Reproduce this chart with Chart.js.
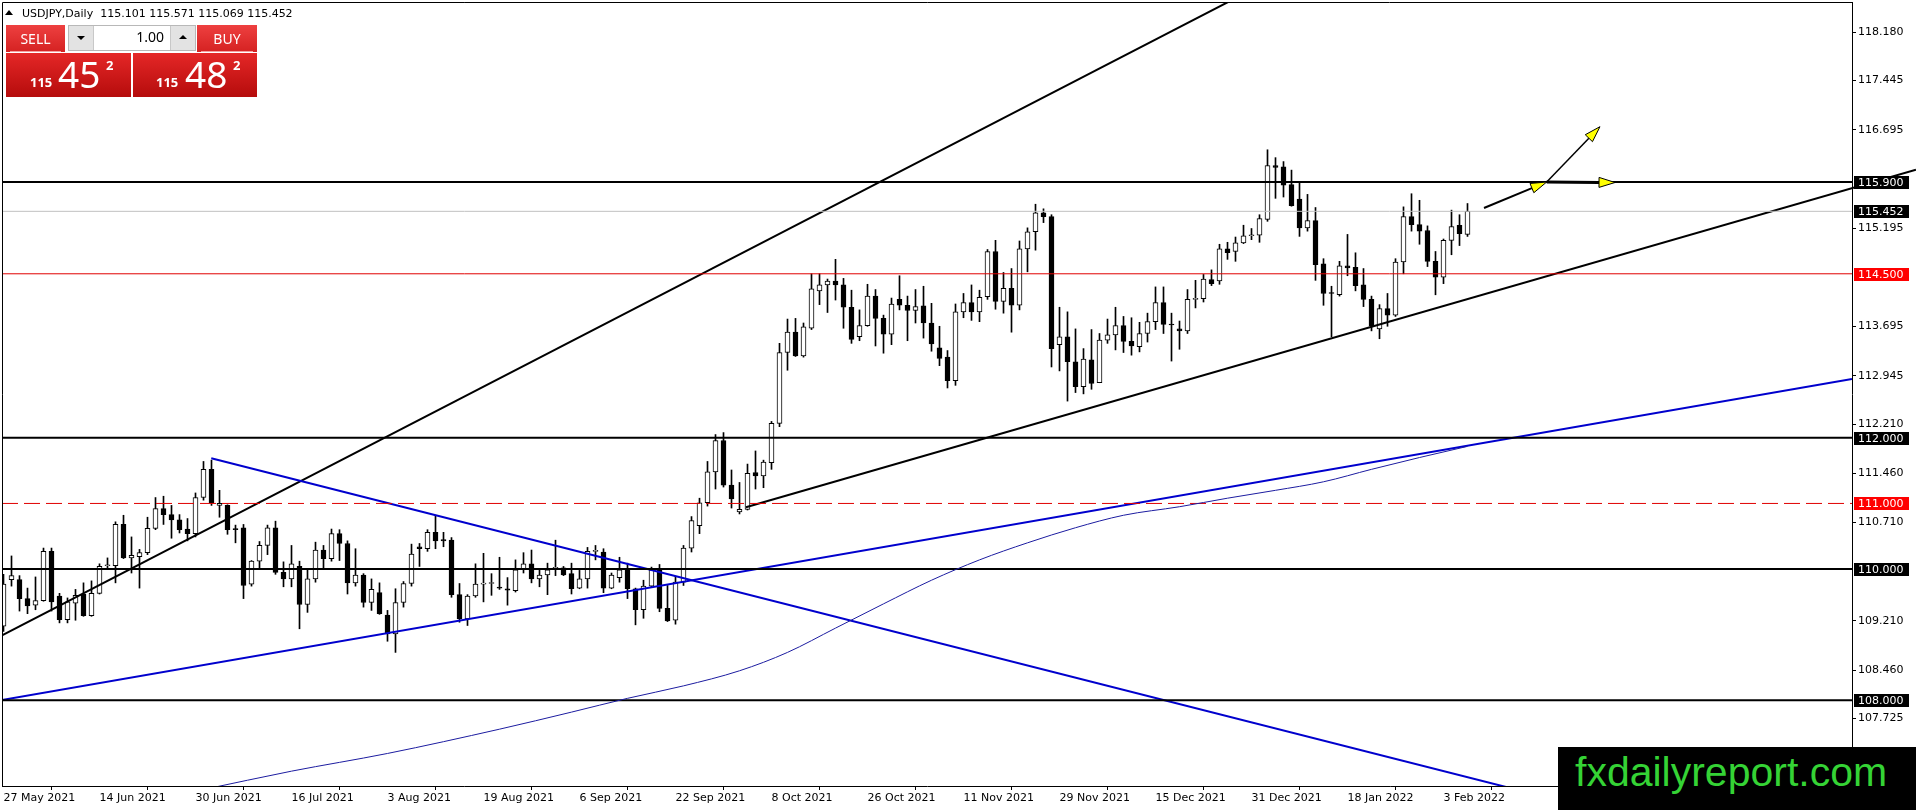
<!DOCTYPE html>
<html lang="en">
<head>
  <meta charset="UTF-8">
  <title>USDJPY Daily</title>
  <script src="https://cdn.jsdelivr.net/npm/chart.js"></script>
  <style>
    html, body { margin: 0; padding: 0; background: #fff; }
    #wrap { position: relative; width: 1916px; height: 810px; overflow: hidden; font-family: "DejaVu Sans", sans-serif; }
    #chart { position: absolute; left: 0; top: 0; }
    .abs { position: absolute; }
    .hdr { left: 22px; top: 8px; font-size: 11px; line-height: 1; white-space: pre; color: #000; }
    .tri { left: 5px; top: 10px; width: 0; height: 0; border-left: 4px solid transparent; border-right: 4px solid transparent; border-bottom: 5px solid #000; }
    .redTop { top: 25px; height: 27px; background: linear-gradient(#ee4040, #d52222); color: #fff; font-family: "Noto Sans", sans-serif; font-size: 14px; line-height: 27px; text-align: center; }
    .redTop:after { content: ""; position: absolute; left: 4px; right: 4px; bottom: 0; height: 1px; background: #f5a0a0; }
    .redBig { top: 53px; height: 44px; background: linear-gradient(#e52727, #b50c0c); }
    .lot { left: 68px; top: 25px; width: 126px; height: 24px; border: 1px solid #b8b8b8; background: #fff; }
    .btn { top: 0; width: 24px; height: 24px; background: #e3e3e3; }
    .num { color: #fff; font-family: "Noto Sans", sans-serif; line-height: 1; white-space: pre; }
    .wm { left: 1558px; top: 747px; width: 358px; height: 63px; background: #000; }
    .wm span { position: absolute; left: 17px; top: 5px; font-family: "Liberation Sans", sans-serif; font-size: 41px; line-height: 1; color: #35d335; white-space: pre; }
  </style>
</head>
<body>
<div id="wrap">
  <canvas id="chart" width="1916" height="810"></canvas>

  <div class="abs tri"></div>
  <div class="abs hdr">USDJPY,Daily  115.101 115.571 115.069 115.452</div>

  <!-- one-click trading panel -->
  <div class="abs redTop" style="left:6px;width:59px;">SELL</div>
  <div class="abs redTop" style="left:197px;width:60px;">BUY</div>
  <div class="abs lot">
    <div class="abs btn" style="left:0;border-right:1px solid #c8c8c8;">
      <div class="abs" style="left:8px;top:10px;width:0;height:0;border-left:4px solid transparent;border-right:4px solid transparent;border-top:4px solid #000;"></div>
    </div>
    <div class="abs" style="right:31px;top:4px;font-family:'Noto Sans',sans-serif;font-size:14px;line-height:1;">1.00</div>
    <div class="abs btn" style="right:0;border-left:1px solid #c8c8c8;">
      <div class="abs" style="left:8px;top:9px;width:0;height:0;border-left:4px solid transparent;border-right:4px solid transparent;border-bottom:4px solid #000;"></div>
    </div>
  </div>
  <div class="abs redBig" style="left:6px;width:125px;"></div>
  <div class="abs redBig" style="left:133px;width:124px;"></div>
  <div class="abs num" style="left:30px;top:76px;font-size:13px;font-weight:bold;">115</div>
  <div class="abs num" style="left:58px;top:55px;font-size:37px;">45</div>
  <div class="abs num" style="left:106px;top:59px;font-size:13px;font-weight:bold;">2</div>
  <div class="abs num" style="left:156px;top:76px;font-size:13px;font-weight:bold;">115</div>
  <div class="abs num" style="left:185px;top:55px;font-size:37px;">48</div>
  <div class="abs num" style="left:233px;top:59px;font-size:13px;font-weight:bold;">2</div>

  <div class="abs wm"><span>fxdailyreport.com</span></div>
</div>

<script>
  // ---- data (bar index 0 = 27 May 2021) ----
  const dateTickBars = [0, 12, 24, 36, 48, 60, 72, 84, 96, 108, 120, 132, 144, 156, 168, 180];
  const dateLabels = ['27 May 2021', '14 Jun 2021', '30 Jun 2021', '16 Jul 2021', '3 Aug 2021', '19 Aug 2021',
    '6 Sep 2021', '22 Sep 2021', '8 Oct 2021', '26 Oct 2021', '11 Nov 2021', '29 Nov 2021',
    '15 Dec 2021', '31 Dec 2021', '18 Jan 2022', '3 Feb 2022'];
  const priceTicks = [118.180, 117.445, 116.695, 115.195, 113.695, 112.945, 112.210, 111.460, 110.710, 109.210, 108.460, 107.725];

  const opens = [
    109.13,109.84,109.84,109.55,109.45,109.52,110.27,109.59,109.23,109.48,
    109.62,109.29,109.63,110.05,110.05,110.68,110.17,110.19,110.25,110.62,
    110.92,110.83,110.75,110.61,110.54,111.09,111.52,110.97,110.97,110.61,
    110.63,109.77,110.12,110.36,110.63,109.95,109.85,110.04,109.46,109.85,
    110.29,110.16,110.54,110.39,109.79,109.91,109.49,109.64,109.30,109.01,
    109.49,109.78,110.34,110.31,110.56,110.45,110.44,109.61,109.24,109.59,
    109.77,109.78,109.72,109.70,109.67,110.00,110.08,109.85,109.91,110.01,
    110.02,109.93,109.71,109.85,110.27,110.26,109.71,109.87,109.99,109.70,
    109.38,109.74,109.99,109.40,109.22,109.80,110.32,110.66,111.01,111.48,
    111.96,111.28,110.87,110.91,111.47,111.42,111.62,112.22,113.30,113.61,
    113.25,113.67,114.24,114.33,114.39,114.33,113.99,113.54,113.71,114.16,
    113.82,113.58,114.11,114.02,113.94,114.01,113.75,113.37,113.23,112.87,
    113.92,114.06,113.92,114.15,114.84,114.08,114.28,114.02,114.88,115.14,
    115.43,115.37,113.42,113.54,113.16,112.78,113.19,112.84,113.49,113.57,
    113.71,113.47,113.39,113.59,113.77,114.06,113.73,113.66,113.63,114.11,
    114.12,114.41,114.39,114.88,114.84,114.97,115.08,115.09,115.33,116.15,
    116.13,115.86,115.64,115.20,115.31,114.65,114.21,114.18,114.62,114.60,
    114.33,114.11,113.66,113.97,113.87,114.68,115.37,115.25,115.16,114.69,
    114.45,115.01,115.24,115.101];
  const highs = [
    109.92,110.20,109.90,109.71,109.88,110.32,110.32,109.63,109.56,109.69,
    109.79,109.82,110.08,110.17,110.72,110.82,110.49,110.30,110.79,111.09,
    111.11,110.97,110.83,110.77,111.16,111.64,111.66,111.20,110.98,110.67,
    110.68,110.13,110.42,110.67,110.73,110.11,110.36,110.12,110.00,110.41,
    110.36,110.61,110.60,110.43,110.31,109.93,109.85,109.79,109.37,109.70,
    109.81,110.38,110.39,110.60,110.82,110.56,110.48,109.78,109.61,110.08,
    110.24,109.93,110.18,109.87,110.14,110.25,110.29,110.00,110.09,110.44,
    110.04,110.09,109.98,110.33,110.36,110.31,109.94,110.18,110.09,109.71,
    109.83,110.03,110.07,109.75,109.89,110.36,110.80,111.08,111.64,112.05,
    112.08,111.51,111.32,111.60,111.80,111.66,112.25,113.44,113.81,113.82,
    113.75,114.50,114.50,114.42,114.72,114.43,114.25,113.95,114.34,114.26,
    113.87,114.13,114.47,114.16,114.26,114.31,114.05,113.70,113.33,114.04,
    114.20,114.33,114.25,114.87,115.01,114.52,114.58,115.00,115.20,115.56,
    115.49,115.40,113.99,113.92,113.66,113.36,113.65,113.59,113.81,113.99,
    113.85,113.83,113.76,113.90,114.30,114.30,113.90,113.78,114.26,114.40,
    114.49,114.56,114.95,114.98,115.06,115.24,115.19,115.40,116.39,116.27,
    116.21,116.08,115.90,115.71,115.51,114.73,114.31,114.69,115.10,114.82,
    114.58,114.16,114.03,114.20,114.73,115.52,115.72,115.62,115.23,114.84,
    115.03,115.47,115.40,115.571];
  const lows = [
    109.05,109.74,109.36,109.32,109.38,109.51,109.36,109.18,109.18,109.22,
    109.28,109.28,109.62,110.02,109.79,110.16,109.94,109.71,110.22,110.60,
    110.68,110.47,110.55,110.43,110.49,111.05,110.97,110.79,110.53,110.40,
    109.55,109.74,110.01,110.22,109.92,109.73,109.73,109.09,109.34,109.80,
    110.02,110.12,110.13,109.62,109.74,109.42,109.37,109.31,108.90,108.73,
    109.42,109.74,110.04,110.27,110.31,110.34,109.57,109.19,109.14,109.57,
    109.50,109.60,109.69,109.45,109.65,109.94,109.79,109.73,109.61,109.90,
    109.90,109.62,109.70,109.71,110.14,109.64,109.70,109.80,109.55,109.15,
    109.25,109.72,109.35,109.20,109.16,109.75,110.26,110.54,110.96,111.22,
    111.25,110.93,110.84,110.90,111.22,111.24,111.52,112.17,113.03,113.24,
    113.23,113.65,114.03,113.91,114.10,113.67,113.44,113.48,113.70,113.40,
    113.29,113.42,113.95,113.48,113.75,113.52,113.32,113.10,112.76,112.80,
    113.83,113.79,113.77,114.11,113.96,113.90,113.61,113.95,114.53,114.86,
    115.28,113.08,113.02,112.56,112.69,112.67,112.74,112.84,113.44,113.34,
    113.30,113.26,113.31,113.46,113.65,113.59,113.17,113.35,113.59,113.98,
    114.07,114.32,114.34,114.72,114.69,114.96,115.02,114.98,115.30,115.65,
    115.67,115.53,115.07,115.15,114.40,114.02,113.54,114.16,114.47,114.24,
    114.00,113.63,113.51,113.70,113.85,114.50,115.15,114.95,114.61,114.18,
    114.35,114.79,114.93,115.069];
  const closes = [
    109.77,109.90,109.55,109.44,109.52,110.27,109.50,109.23,109.50,109.60,
    109.29,109.63,110.04,110.06,110.68,110.17,110.21,110.25,110.62,110.92,
    110.83,110.75,110.60,110.54,111.09,111.52,111.01,111.00,110.60,110.60,
    109.75,110.12,110.36,110.63,109.95,109.85,110.08,109.46,109.85,110.29,
    110.16,110.54,110.39,109.79,109.91,109.49,109.69,109.32,109.01,109.49,
    109.78,110.23,110.31,110.56,110.43,110.43,109.61,109.24,109.59,109.77,
    109.78,109.78,109.71,109.68,109.99,110.08,109.85,109.91,109.99,110.02,
    109.91,109.70,109.85,110.27,110.28,109.71,109.91,109.99,109.70,109.38,
    109.74,109.99,109.40,109.21,109.80,110.32,110.74,111.01,111.48,111.96,
    111.28,111.07,110.91,111.46,111.42,111.63,112.22,113.30,113.61,113.25,
    113.69,114.27,114.33,114.39,114.33,113.99,113.50,113.71,114.16,113.82,
    113.58,114.04,114.02,113.94,114.00,113.75,113.43,113.21,112.87,113.92,
    114.06,113.92,114.14,114.84,114.08,114.28,114.02,114.88,115.14,115.43,
    115.37,113.36,113.54,113.16,112.78,113.20,112.83,113.49,113.57,113.71,
    113.47,113.40,113.59,113.77,114.06,113.73,113.72,113.63,114.11,114.12,
    114.42,114.35,114.88,114.82,114.97,115.08,115.09,115.34,116.15,116.12,
    115.85,115.54,115.20,115.31,114.64,114.20,114.20,114.62,114.59,114.32,
    114.11,113.70,113.97,113.87,114.68,115.37,115.25,115.15,114.69,114.45,
    115.01,115.22,115.11,115.452];

  // moving average (thin blue curve), sampled at bars
  const maBars = [25, 36, 48, 62, 71, 78, 85, 92, 98, 104, 110, 116, 122, 128, 134, 140, 147, 153, 159, 165, 171, 177, 183];
  const maValues = [106.64, 106.92, 107.19, 107.56, 107.82, 108.03, 108.22, 108.45, 108.73, 109.10, 109.47, 109.83,
    110.14, 110.40, 110.63, 110.82, 110.95, 111.08, 111.20, 111.33, 111.52, 111.70, 111.87];

  // horizontal levels
  const blackLevels = [115.900, 112.000, 110.000, 108.000];
  const redLevel = 114.500;
  const redDashLevel = 111.000;
  const lastPrice = 115.452;

  // trend lines: anchor bars and prices
  const steepBars = [-1, 153.56];
  const steepPrices = [108.938, 118.672];
  const supportBars = [92.8, 239.06];
  const supportPrices = [110.941, 116.085];
  const blueDownBars = [25.97, 189.31];
  const blueDownPrices = [111.688, 106.633];
  const blueUpBars = [-1, 231.06];
  const blueUpPrices = [107.987, 112.896];

  // arrows (from -> to)
  const arrowFromBars = [185.06, 192.9, 192.9];
  const arrowFromPrices = [115.503, 115.899, 115.899];
  const arrowToBars = [192.9, 199.56, 201.44];
  const arrowToPrices = [115.899, 116.742, 115.891];

  // ---- chart ----
  const X_MIN = -0.1875, X_MAX = 231.0625;
  const Y_MIN = 106.694, Y_MAX = 118.642;

  Chart.defaults.font.family = 'DejaVu Sans';
  Chart.defaults.font.size = 11;
  Chart.defaults.color = '#000';

  const idx = opens.map((o, i) => i);
  const seg = (bars, prices) => bars.map((b, i) => ({ x: b, y: prices[i] }));
  const flat = (v) => [{ x: X_MIN, y: v }, { x: X_MAX, y: v }];
  const lineDs = (data, color, width, extra) => Object.assign({
    type: 'line', data: data, borderColor: color, borderWidth: width,
    pointRadius: 0, fill: false, tension: 0, order: 0
  }, extra || {});

  const datasets = [
    {
      type: 'bar', label: 'wicks',
      data: idx.map(i => ({ x: i, y: [lows[i], highs[i]] })),
      backgroundColor: '#000', borderWidth: 0, barThickness: 1, grouped: false, order: 3
    },
    {
      type: 'bar', label: 'bodies',
      data: idx.map(i => ({ x: i, y: [opens[i], closes[i]] })),
      backgroundColor: idx.map(i => closes[i] >= opens[i] ? '#fff' : '#000'),
      borderColor: '#000', borderWidth: 1, borderSkipped: false,
      barThickness: 5, minBarLength: 1, grouped: false, order: 2
    },
    lineDs(seg(maBars, maValues), '#1c1ca0', 1, { cubicInterpolationMode: 'monotone' }),
    lineDs(flat(lastPrice), '#c0c0c0', 1),
    lineDs(flat(redLevel), '#e00000', 1),
    lineDs(flat(redDashLevel), '#e00000', 1, { borderDash: [16, 6] })
  ];
  blackLevels.forEach(v => datasets.push(lineDs(flat(v), '#000', 2)));
  datasets.push(lineDs(seg(blueUpBars, blueUpPrices), '#0000cd', 2));
  datasets.push(lineDs(seg(blueDownBars, blueDownPrices), '#0000cd', 2));
  datasets.push(lineDs(seg(steepBars, steepPrices), '#000', 2));
  datasets.push(lineDs(seg(supportBars, supportPrices), '#000', 2, { clip: { left: 0, top: 0, right: false, bottom: 0 } }));

  function drawArrow(ctx, x0, y0, x1, y1, lw) {
    const a = Math.atan2(y1 - y0, x1 - x0);
    const len = 16, half = 5;
    const bx = x1 - len * Math.cos(a), by = y1 - len * Math.sin(a);
    ctx.strokeStyle = '#000';
    ctx.lineWidth = lw;
    ctx.beginPath(); ctx.moveTo(x0, y0); ctx.lineTo(bx, by); ctx.stroke();
    ctx.beginPath();
    ctx.moveTo(x1, y1);
    ctx.lineTo(bx + half * Math.sin(a), by - half * Math.cos(a));
    ctx.lineTo(bx - half * Math.sin(a), by + half * Math.cos(a));
    ctx.closePath();
    ctx.fillStyle = '#ffff00';
    ctx.fill();
    ctx.lineWidth = 1;
    ctx.stroke();
  }

  const overlays = {
    id: 'overlays',
    afterDatasetsDraw(chart) {
      const { ctx, scales: { x, y } } = chart;
      const widths = [2, 1.5, 3];
      ctx.save();
      arrowFromBars.forEach((b, i) => {
        drawArrow(ctx, x.getPixelForValue(b), y.getPixelForValue(arrowFromPrices[i]),
          x.getPixelForValue(arrowToBars[i]), y.getPixelForValue(arrowToPrices[i]), widths[i]);
      });
      ctx.restore();
    },
    afterDraw(chart) {
      const { ctx, chartArea: ca, scales: { y } } = chart;
      ctx.save();
      // chart frame (top and left)
      ctx.strokeStyle = '#000';
      ctx.lineWidth = 1;
      ctx.beginPath();
      ctx.moveTo(ca.left + 0.5, ca.bottom);
      ctx.lineTo(ca.left + 0.5, ca.top + 0.5);
      ctx.lineTo(ca.right, ca.top + 0.5);
      ctx.stroke();
      // price tags on the axis
      const tags = [[115.900, '#000'], [lastPrice, '#000'], [redLevel, '#ff0000'], [112.000, '#000'],
        [redDashLevel, '#ff0000'], [110.000, '#000'], [108.000, '#000']];
      ctx.font = '11px "DejaVu Sans"';
      ctx.textBaseline = 'middle';
      ctx.textAlign = 'left';
      tags.forEach(([v, c]) => {
        const py = Math.round(y.getPixelForValue(v));
        ctx.fillStyle = c;
        ctx.fillRect(ca.right + 2, py - 6, 55, 13);
        ctx.fillStyle = '#fff';
        ctx.fillText(v.toFixed(3), ca.right + 6, py + 1);
      });
      ctx.restore();
    }
  };

  new Chart(document.getElementById('chart'), {
    type: 'bar',
    data: { datasets: datasets },
    options: {
      responsive: false,
      animation: false,
      devicePixelRatio: 1,
      layout: { padding: { left: 2, top: 2, right: 0, bottom: 0 } },
      plugins: { legend: { display: false }, tooltip: { enabled: false } },
      scales: {
        x: {
          type: 'linear', min: X_MIN, max: X_MAX, offset: false,
          grid: { drawOnChartArea: false, drawTicks: true, tickLength: 4, color: '#000', tickColor: '#000' },
          border: { display: true, color: '#000', width: 1 },
          ticks: {
            align: 'start', padding: 2, maxRotation: 0, autoSkip: false,
            callback: (v) => dateLabels[dateTickBars.indexOf(v)] || ''
          },
          afterBuildTicks: (s) => { s.ticks = dateTickBars.map(v => ({ value: v })); },
          afterFit: (s) => { s.height = 24; s.paddingLeft = 0; s.paddingRight = 0; }
        },
        y: {
          type: 'linear', position: 'right', min: Y_MIN, max: Y_MAX,
          grid: { drawOnChartArea: false, drawTicks: true, tickLength: 4, color: '#000', tickColor: '#000' },
          border: { display: true, color: '#000', width: 1 },
          ticks: { padding: 2, callback: (v) => Number(v).toFixed(3) },
          afterBuildTicks: (s) => { s.ticks = priceTicks.map(v => ({ value: v })); },
          afterFit: (s) => { s.width = 64; s.paddingTop = 0; s.paddingBottom = 0; }
        }
      }
    },
    plugins: [overlays]
  });
</script>
</body>
</html>
